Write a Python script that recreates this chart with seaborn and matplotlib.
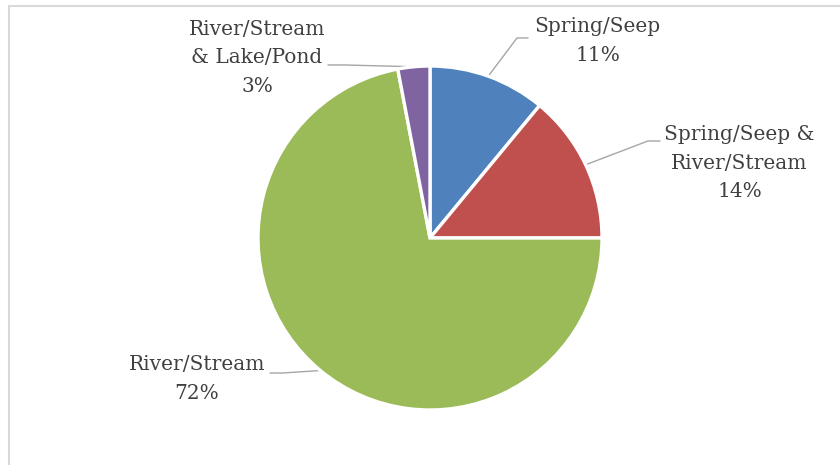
import numpy as np
import matplotlib
matplotlib.use("Agg")
import matplotlib.pyplot as plt
from matplotlib.patches import Rectangle
import seaborn as sns

# Water source categories and their shares (%)
categories = ["Spring/Seep", "Spring/Seep &\nRiver/Stream", "River/Stream", "River/Stream\n& Lake/Pond"]
shares = [11, 14, 72, 3]
pct_labels = ["11%", "14%", "72%", "3%"]
colors = ["#4F81BD", "#C0504D", "#9BBB59", "#8064A2"]

# Label placement (pie radius units): text centre, elbow of leader, leader end
label_pos = [(0.975, 1.145), (1.80, 0.436), (-1.355, -0.82), (-1.006, 1.047)]
leader_elbow = [(0.506, 1.163), (1.267, 0.564), (-0.860, -0.785), (-0.50, 1.006)]
leader_end = [(0.570, 1.163), (1.337, 0.564), (-0.930, -0.785), (-0.593, 1.006)]

sns.set_theme(style="white")
plt.rcParams["font.family"] = ["DejaVu Serif"]

W, H = 840, 465
fig = plt.figure(figsize=(W / 100, H / 100), dpi=100)
cx, cy, R = 430, 238, 172
ax = fig.add_axes([(cx - R) / W, (H - cy - R) / H, 2 * R / W, 2 * R / H])

wedges, _ = ax.pie(shares, colors=colors, startangle=90, counterclock=False,
                   radius=1.0, wedgeprops=dict(edgecolor="white", linewidth=2.4))
ax.set_xlim(-1, 1)
ax.set_ylim(-1, 1)
ax.set_aspect("equal")
ax.axis("off")

text_color = "#404040"
line_color = "#A6A6A6"
for w, cat, pct, tp, el, en in zip(wedges, categories, pct_labels, label_pos, leader_elbow, leader_end):
    mid = np.deg2rad((w.theta1 + w.theta2) / 2)
    ex, ey = np.cos(mid), np.sin(mid)
    ax.plot([ex, el[0], en[0]], [ey, el[1], en[1]], color=line_color, lw=1.0,
            clip_on=False, zorder=0.5)
    ax.text(tp[0], tp[1], f"{cat}\n{pct}", ha="center", va="center", fontsize=14.5,
            color=text_color, linespacing=1.62, clip_on=False)

# Chart area frame
fig.add_artist(Rectangle((9 / W, -0.1), 1.2, 1.1 - 6.5 / H, transform=fig.transFigure,
                         fill=False, edgecolor="#D9D9D9", lw=1.5))

fig.savefig("out.png", dpi=100, facecolor="white")
